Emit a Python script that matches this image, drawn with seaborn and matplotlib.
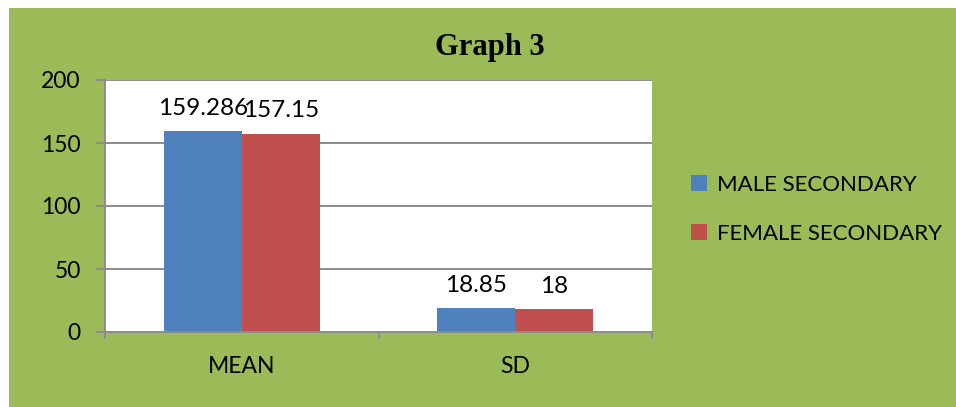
import matplotlib
matplotlib.use("Agg")
import matplotlib.pyplot as plt
import seaborn as sns
import pandas as pd
from matplotlib.patches import Rectangle
from matplotlib.ticker import FixedLocator

# ---- data ----
categories = ["MEAN", "SD"]
series_names = ["MALE SECONDARY", "FEMALE SECONDARY"]
male_values = [159.286, 18.85]
female_values = [157.15, 18]
y_ticks = [0, 50, 100, 150, 200]
title_text = "Graph 3"

colors = ["#4F81BD", "#C0504D"]
green = "#9BBB59"
grid_gray = "#8C8C8C"

df = pd.DataFrame({
    "category": categories * 2,
    "series": [series_names[0]] * len(categories) + [series_names[1]] * len(categories),
    "value": male_values + female_values,
})

sns.set_theme(style="white")
plt.rcParams["font.family"] = ["Lato", "DejaVu Sans"]
plt.rcParams["text.color"] = "black"
plt.rcParams["xtick.color"] = "black"
plt.rcParams["ytick.color"] = "black"

W, H = 956, 407
fig = plt.figure(figsize=(W / 100, H / 100), dpi=100, facecolor="white")

# green chart background
fig.patches.append(Rectangle((9 / W, 0), 1 - 9 / W, 1 - 8 / H, transform=fig.transFigure,
                             facecolor=green, edgecolor="none", zorder=-10))

ax = fig.add_axes([105 / W, (H - 332) / H, (652 - 105) / W, 252 / H])
ax.set_zorder(1)
ax.set_facecolor("white")

sns.barplot(data=df, x="category", y="value", hue="series", palette=colors,
            width=0.57, gap=0, saturation=1, ax=ax, edgecolor="none", legend=True)

ax.set_xlim(-0.5, 1.5)
ax.set_ylim(0, 200)
ax.set_yticks(y_ticks)
ax.set_xlabel("")
ax.set_ylabel("")

ax.yaxis.grid(True, color=grid_gray, linewidth=1.4)
ax.set_axisbelow(True)
for s in ["top", "right"]:
    ax.spines[s].set_visible(False)
for s in ["left", "bottom"]:
    ax.spines[s].set_color(grid_gray)
    ax.spines[s].set_linewidth(1.4)

ax.tick_params(axis="y", which="major", direction="out", length=6.5, width=1.4,
               color=grid_gray, left=True, labelsize=16.5, pad=11, labelcolor="black")
ax.tick_params(axis="x", which="major", length=0, labelsize=16.5, pad=17, labelcolor="black")
ax.xaxis.set_minor_locator(FixedLocator([-0.5, 0.5, 1.5]))
ax.tick_params(axis="x", which="minor", direction="out", length=5, width=1.4,
               color=grid_gray, bottom=True)

for cont in ax.containers:
    ax.bar_label(cont, labels=[f"{v:g}" for v in cont.datavalues], padding=9,
                 fontsize=17.5, color="black")

handles, labels = ax.get_legend_handles_labels()
ax.get_legend().remove()
leg = fig.legend(handles, labels, loc="upper left", bbox_to_anchor=(691 / W, 1 - 175 / H),
                 frameon=False, fontsize=16, handlelength=0.7, handleheight=0.7,
                 handletextpad=0.45, labelspacing=1.3, borderaxespad=0, borderpad=0)
for t in leg.get_texts():
    t.set_color("black")

fig.text(490 / W, 1 - 48 / H, title_text, ha="center", va="center", color="black",
         fontsize=22, fontweight="bold", family=["Liberation Serif", "DejaVu Serif"])

fig.savefig("out.png", dpi=100, facecolor="white")
